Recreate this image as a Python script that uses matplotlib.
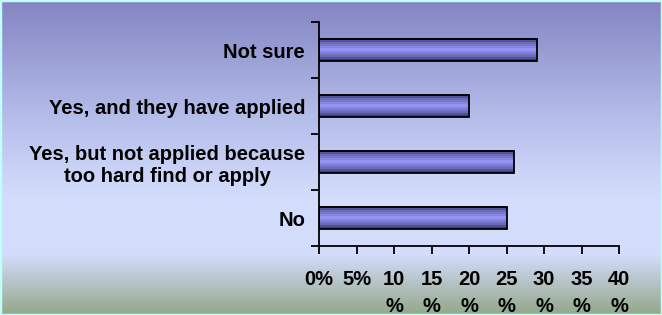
import numpy as np
import matplotlib.pyplot as plt
from matplotlib.colors import LinearSegmentedColormap
from matplotlib.patches import Rectangle

categories = ['No', 'Yes, but not applied because\ntoo hard find or apply',
              'Yes, and they have applied', 'Not sure']
values = [25, 26, 20, 29]
xticks = [0, 5, 10, 15, 20, 25, 30, 35, 40]
xticklabels = ['0%', '5%', '10\n%', '15\n%', '20\n%', '25\n%', '30\n%', '35\n%', '40\n%']

plt.rcParams['font.family'] = ['Liberation Sans', 'DejaVu Sans']

fig = plt.figure(figsize=(6.62, 3.15), dpi=100)

# background gradient (top purple -> light lavender -> greenish bottom)
bg = fig.add_axes([0, 0, 1, 1], zorder=-10)
stops = [(0.0, '#8484c2'), (0.35, '#b2bae8'), (0.62, '#d4dcfc'),
         (0.81, '#d4dcfc'), (1.0, '#94a88a')]
bgcmap = LinearSegmentedColormap.from_list('bg', stops)
grad = np.linspace(0, 1, 315).reshape(-1, 1)
bg.imshow(grad, aspect='auto', cmap=bgcmap, extent=[0, 1, 1, 0])
bg.set_xlim(0, 1)
bg.set_ylim(1, 0)
bg.axis('off')
fig.patches.append(Rectangle((0, 0), 1, 1, transform=fig.transFigure, fill=False,
                             edgecolor='#c4fcfc', linewidth=2.5, zorder=5))

ax = fig.add_axes([319/662, 1-246/315, 300/662, 224/315])
ax.patch.set_alpha(0)

# bar stripes: dark edges, light centre
barcmap = LinearSegmentedColormap.from_list(
    'bar', [(0, '#3a3a78'), (0.18, '#6a6ab8'), (0.5, '#9a9afc'), (0.82, '#6a6ab8'), (1, '#3a3a78')])
h = 0.4
ypos = np.arange(len(categories))
bars = ax.barh(ypos, values, height=h, color='none', edgecolor='black', linewidth=1.3, zorder=3)
stripe = np.linspace(0, 1, 12).reshape(-1, 1)
for b in bars:
    x0, y0, w, hh = b.get_x(), b.get_y(), b.get_width(), b.get_height()
    ax.imshow(stripe, aspect='auto', cmap=barcmap, extent=[x0, x0 + w, y0, y0 + hh],
              interpolation='nearest', zorder=2)

ax.set_xlim(0, 40)
ax.set_ylim(-0.5, 3.5)
for s in ['top', 'right']:
    ax.spines[s].set_visible(False)
for s in ['left', 'bottom']:
    ax.spines[s].set_linewidth(1.3)

ax.set_xticks(xticks)
ax.set_xticklabels(xticklabels, fontsize=14.5, fontweight='bold', linespacing=1.55, va='top')
ax.tick_params(axis='x', direction='out', length=6, width=1.3, pad=11)

ax.set_yticks(np.arange(-0.5, 4.0, 1.0))
ax.set_yticklabels([])
ax.tick_params(axis='y', which='major', direction='out', length=6, width=1.3)
ax.set_yticks(ypos, minor=True)
ax.set_yticklabels(categories, minor=True, fontsize=14.5, fontweight='bold',
                   ha='right', multialignment='center', linespacing=1.2)
ax.tick_params(axis='y', which='minor', length=0, pad=10)

fig.savefig('out.png', dpi=100)
